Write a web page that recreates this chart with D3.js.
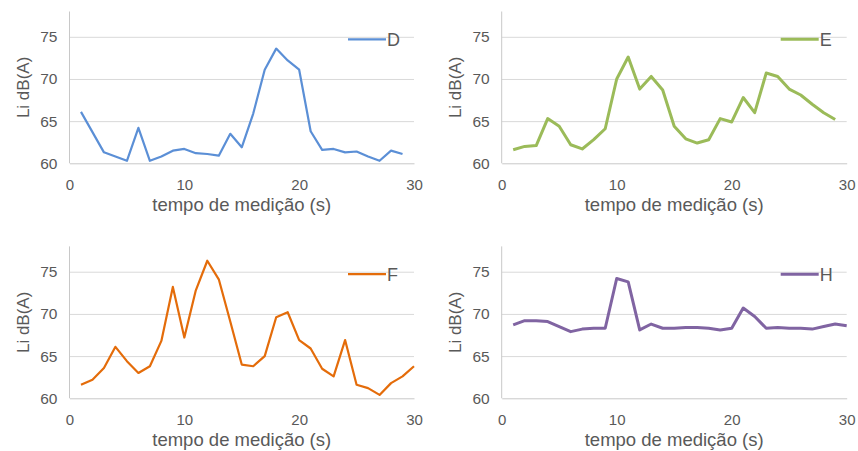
<!DOCTYPE html>
<html>
<head>
<meta charset="utf-8">
<script src="https://cdn.jsdelivr.net/npm/d3@7"></script>
<style>
  body { margin: 0; background: #fff; }
  svg { display: block; font-family: "Liberation Sans", Arial, sans-serif; }
  .tick text { fill: #595959; }
</style>
</head>
<body>
<svg id="chart" width="858" height="451"></svg>
<script>
// time axis (s)
const times29 = [1,2,3,4,5,6,7,8,9,10,11,12,13,14,15,16,17,18,19,20,21,22,23,24,25,26,27,28,29];
const times30 = [1,2,3,4,5,6,7,8,9,10,11,12,13,14,15,16,17,18,19,20,21,22,23,24,25,26,27,28,29,30];

// Li dB(A) per point
const valuesD = [66.1,63.7,61.3,60.8,60.3,64.2,60.3,60.8,61.5,61.7,61.2,61.1,60.9,63.5,61.9,65.9,71.1,73.6,72.2,71.1,63.8,61.6,61.7,61.3,61.4,60.8,60.3,61.5,61.1];
const valuesE = [61.6,62.0,62.1,65.3,64.4,62.2,61.7,62.8,64.1,70.0,72.6,68.8,70.3,68.7,64.4,62.9,62.4,62.8,65.3,64.9,67.8,66.0,70.7,70.3,68.8,68.1,67.0,66.0,65.2];
const valuesF = [61.6,62.2,63.6,66.1,64.4,63.0,63.8,66.8,73.2,67.2,72.8,76.3,74.1,69.1,64.0,63.8,65.0,69.6,70.2,66.9,65.9,63.5,62.6,66.9,61.6,61.2,60.4,61.8,62.6,63.8];
const valuesH = [68.7,69.2,69.2,69.1,68.5,67.9,68.2,68.3,68.3,74.2,73.8,68.1,68.8,68.3,68.3,68.4,68.4,68.3,68.1,68.3,70.7,69.7,68.3,68.4,68.3,68.3,68.2,68.5,68.8,68.6];

const xTicks = [0, 10, 20, 30];
const yTicks = [60, 65, 70, 75];
const seriesNames = ['D', 'E', 'F', 'H'];

const xTitle = 'tempo de medição (s)';
const yTitle = 'Li dB(A)';

const svg = d3.select('#chart');

// one entry per small chart
const panels = [
  {name: seriesNames[0], x: times29, y: valuesD, color: '#5b8fd6', width: 2.2, left: 69.5, right: 414, top: 11.5, bottom: 163.3},
  {name: seriesNames[1], x: times29, y: valuesE, color: '#9bbb59', width: 3,   left: 501.7, right: 846.7, top: 11.5, bottom: 163.3},
  {name: seriesNames[2], x: times30, y: valuesF, color: '#e46c0a', width: 2.2, left: 69.5, right: 414, top: 246.4, bottom: 398.3},
  {name: seriesNames[3], x: times30, y: valuesH, color: '#8064a2', width: 3,   left: 501.7, right: 846.7, top: 246.4, bottom: 398.3}
];

panels.forEach(function(p) {
  const xScale = d3.scaleLinear().domain([0, 30]).range([p.left, p.right]);
  const yScale = d3.scaleLinear().domain([60, 78]).range([p.bottom, p.top]);

  const g = svg.append('g');

  // grid lines
  g.append('g')
    .attr('transform', `translate(${p.left}, 0)`)
    .call(d3.axisLeft(yScale).tickValues(yTicks.slice(1)).tickSize(-(p.right - p.left)).tickFormat(''))
    .call(a => a.select('.domain').remove())
    .selectAll('line').attr('stroke', '#d9d9d9').attr('stroke-width', 1);

  // y axis
  const yAxis = g.append('g')
    .attr('transform', `translate(${p.left}, 0)`)
    .call(d3.axisLeft(yScale).tickValues(yTicks).tickSize(0).tickPadding(12));
  yAxis.select('.domain').attr('stroke', '#c8c8c8').attr('d', `M0,${p.top}V${p.bottom}`);
  yAxis.selectAll('text').style('font-size', '15.5px').attr('font-family', null);

  // x axis
  const xAxis = g.append('g')
    .attr('transform', `translate(0, ${p.bottom})`)
    .call(d3.axisBottom(xScale).tickValues(xTicks).tickSize(0).tickPadding(16));
  xAxis.select('.domain').attr('stroke', '#c8c8c8');
  xAxis.selectAll('text').style('font-size', '15px').attr('font-family', null);

  // series line
  const pts = p.x.map((t, i) => [t, p.y[i]]);
  g.append('path')
    .datum(pts)
    .attr('fill', 'none')
    .attr('stroke', p.color)
    .attr('stroke-width', p.width)
    .attr('stroke-linejoin', 'round')
    .attr('d', d3.line().x(d => xScale(d[0])).y(d => yScale(d[1])));

  // legend
  const ly = yScale(75) + 2.5;
  g.append('line')
    .attr('x1', p.right - 66).attr('x2', p.right - 28)
    .attr('y1', ly).attr('y2', ly)
    .attr('stroke', p.color).attr('stroke-width', p.width);
  g.append('text')
    .attr('x', p.right - 27).attr('y', ly + 6.5)
    .attr('fill', '#595959')
    .style('font-size', '18px')
    .text(p.name);

  // axis titles
  g.append('text')
    .attr('x', (p.left + p.right) / 2)
    .attr('y', p.bottom + 48)
    .attr('text-anchor', 'middle')
    .attr('fill', '#595959')
    .style('font-size', '18.5px')
    .text(xTitle);

  g.append('text')
    .attr('transform', `translate(${p.left - 41}, ${yScale(69)}) rotate(-90)`)
    .attr('text-anchor', 'middle')
    .attr('fill', '#595959')
    .style('font-size', '17px')
    .text(yTitle);
});
</script>
</body>
</html>
